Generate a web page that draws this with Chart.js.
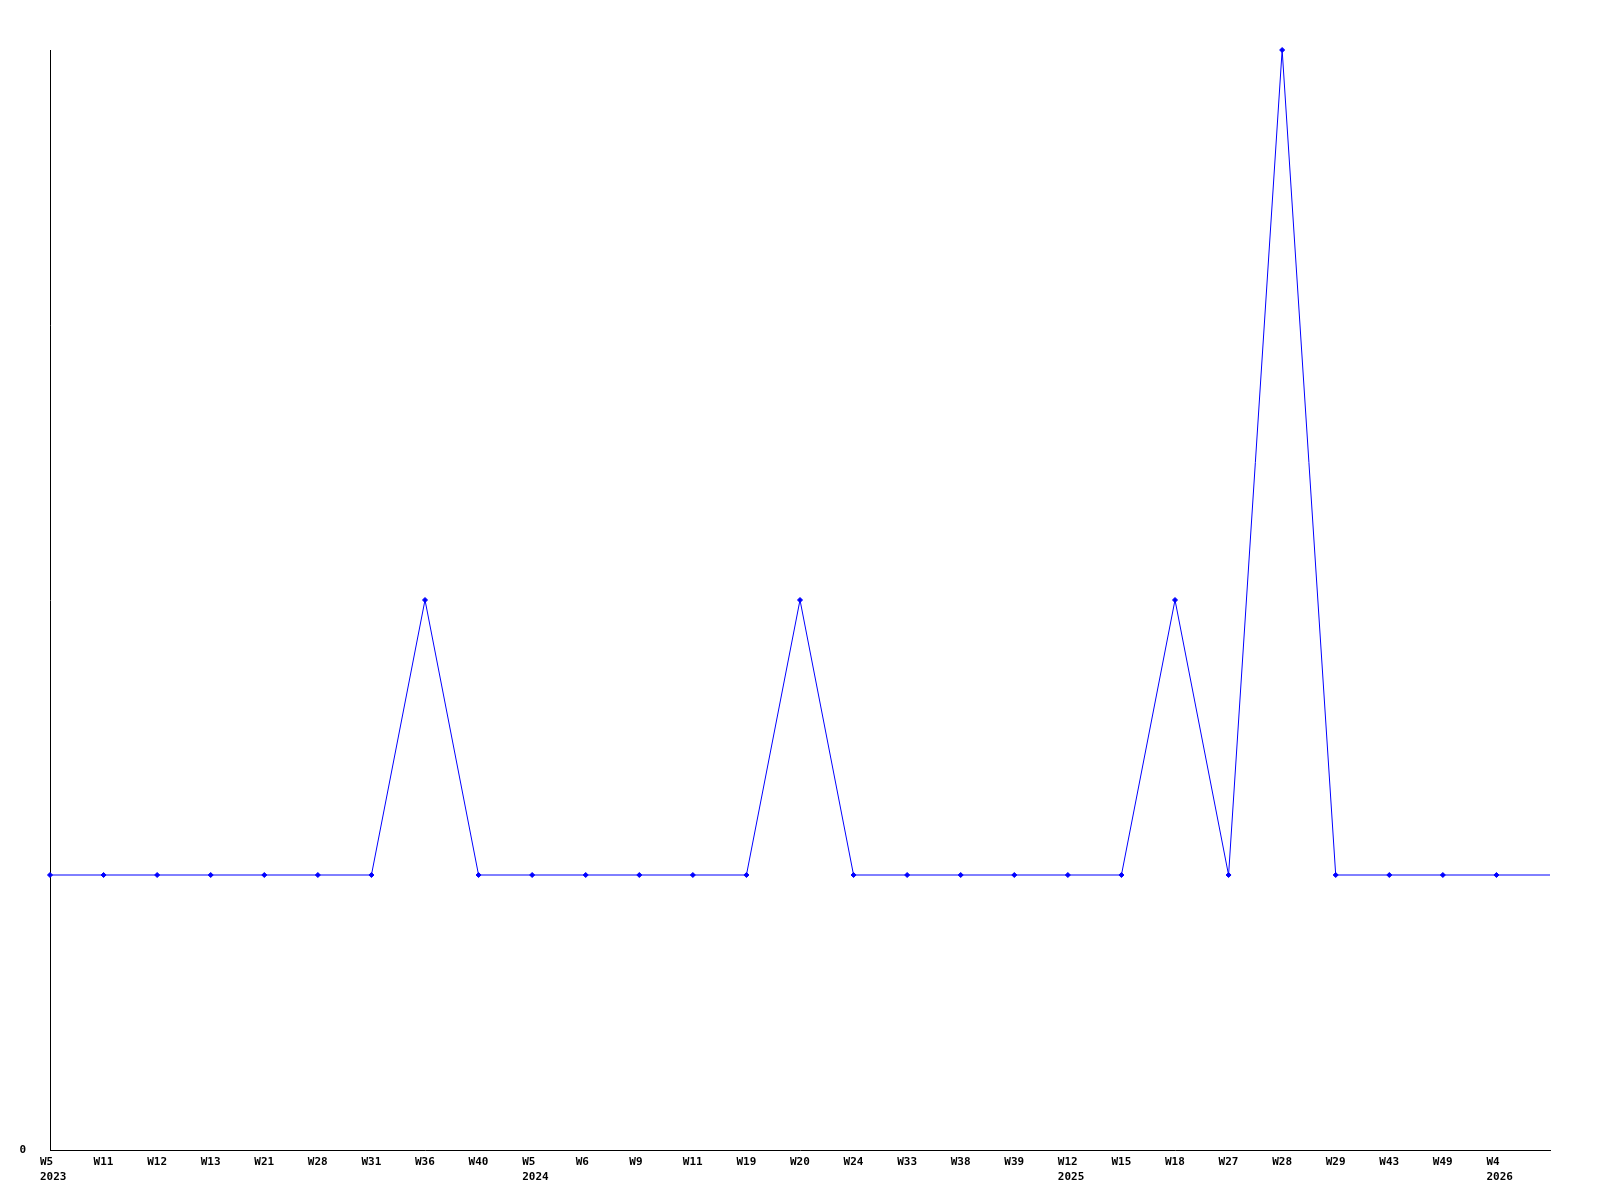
<!DOCTYPE html>
<html>
<head>
<meta charset="utf-8">
<script src="https://cdn.jsdelivr.net/npm/chart.js@4/dist/chart.umd.min.js"></script>
<style>
html,body{margin:0;padding:0;background:#fff;}
#wrap{width:1600px;height:1200px;position:relative;}
</style>
</head>
<body>
<div id="wrap"><canvas id="c" width="1600" height="1200"></canvas></div>
<script>
const weeks = ['W5','W11','W12','W13','W21','W28','W31','W36','W40','W5','W6','W9','W11','W19','W20','W24','W33','W38','W39','W12','W15','W18','W27','W28','W29','W43','W49','W4',''];
const years = {0:'2023', 9:'2024', 19:'2025', 27:'2026'};
const values = [1,1,1,1,1,1,1,2,1,1,1,1,1,1,2,1,1,1,1,1,1,2,1,4,1,1,1,1,1];
const yTicks = [0];

const labels = weeks.map((w,i)=> years[i] ? [w, years[i]] : w);
const radii = values.map((v,i)=> i === values.length-1 ? 0 : 2.5);

new Chart(document.getElementById('c'), {
  type: 'line',
  data: {
    labels: labels,
    datasets: [{
      data: values,
      borderColor: '#0000ff',
      backgroundColor: '#0000ff',
      borderWidth: 1,
      pointStyle: 'rectRot',
      pointRadius: radii,
      pointBorderWidth: 1,
      tension: 0,
      clip: false
    }]
  },
  options: {
    responsive: false,
    animation: false,
    devicePixelRatio: 1,
    layout: {padding: {top: 50, right: 50, left: 0, bottom: 0}},
    plugins: {legend: {display: false}, tooltip: {enabled: false}},
    scales: {
      x: {
        offset: false,
        grid: {display: false, drawTicks: false},
        border: {display: true, color: '#000', width: 1},
        ticks: {
          autoSkip: false, maxRotation: 0, minRotation: 0,
          align: 'start', labelOffset: -10, padding: 5,
          color: '#000',
          font: {family: 'DejaVu Sans Mono', size: 11, weight: 'bold', lineHeight: 1.35}
        },
        afterFit: s => { s.height = 50; }
      },
      y: {
        min: 0, max: 4,
        grid: {display: false, drawTicks: false},
        border: {display: true, color: '#000', width: 1},
        afterBuildTicks: s => { s.ticks = yTicks.map(v => ({value: v})); },
        ticks: {
          padding: 24, color: '#000',
          callback: v => String(v),
          font: {family: 'DejaVu Sans Mono', size: 11, weight: 'bold'}
        },
        afterFit: s => { s.width = 50; }
      }
    }
  }
});
</script>
</body>
</html>
